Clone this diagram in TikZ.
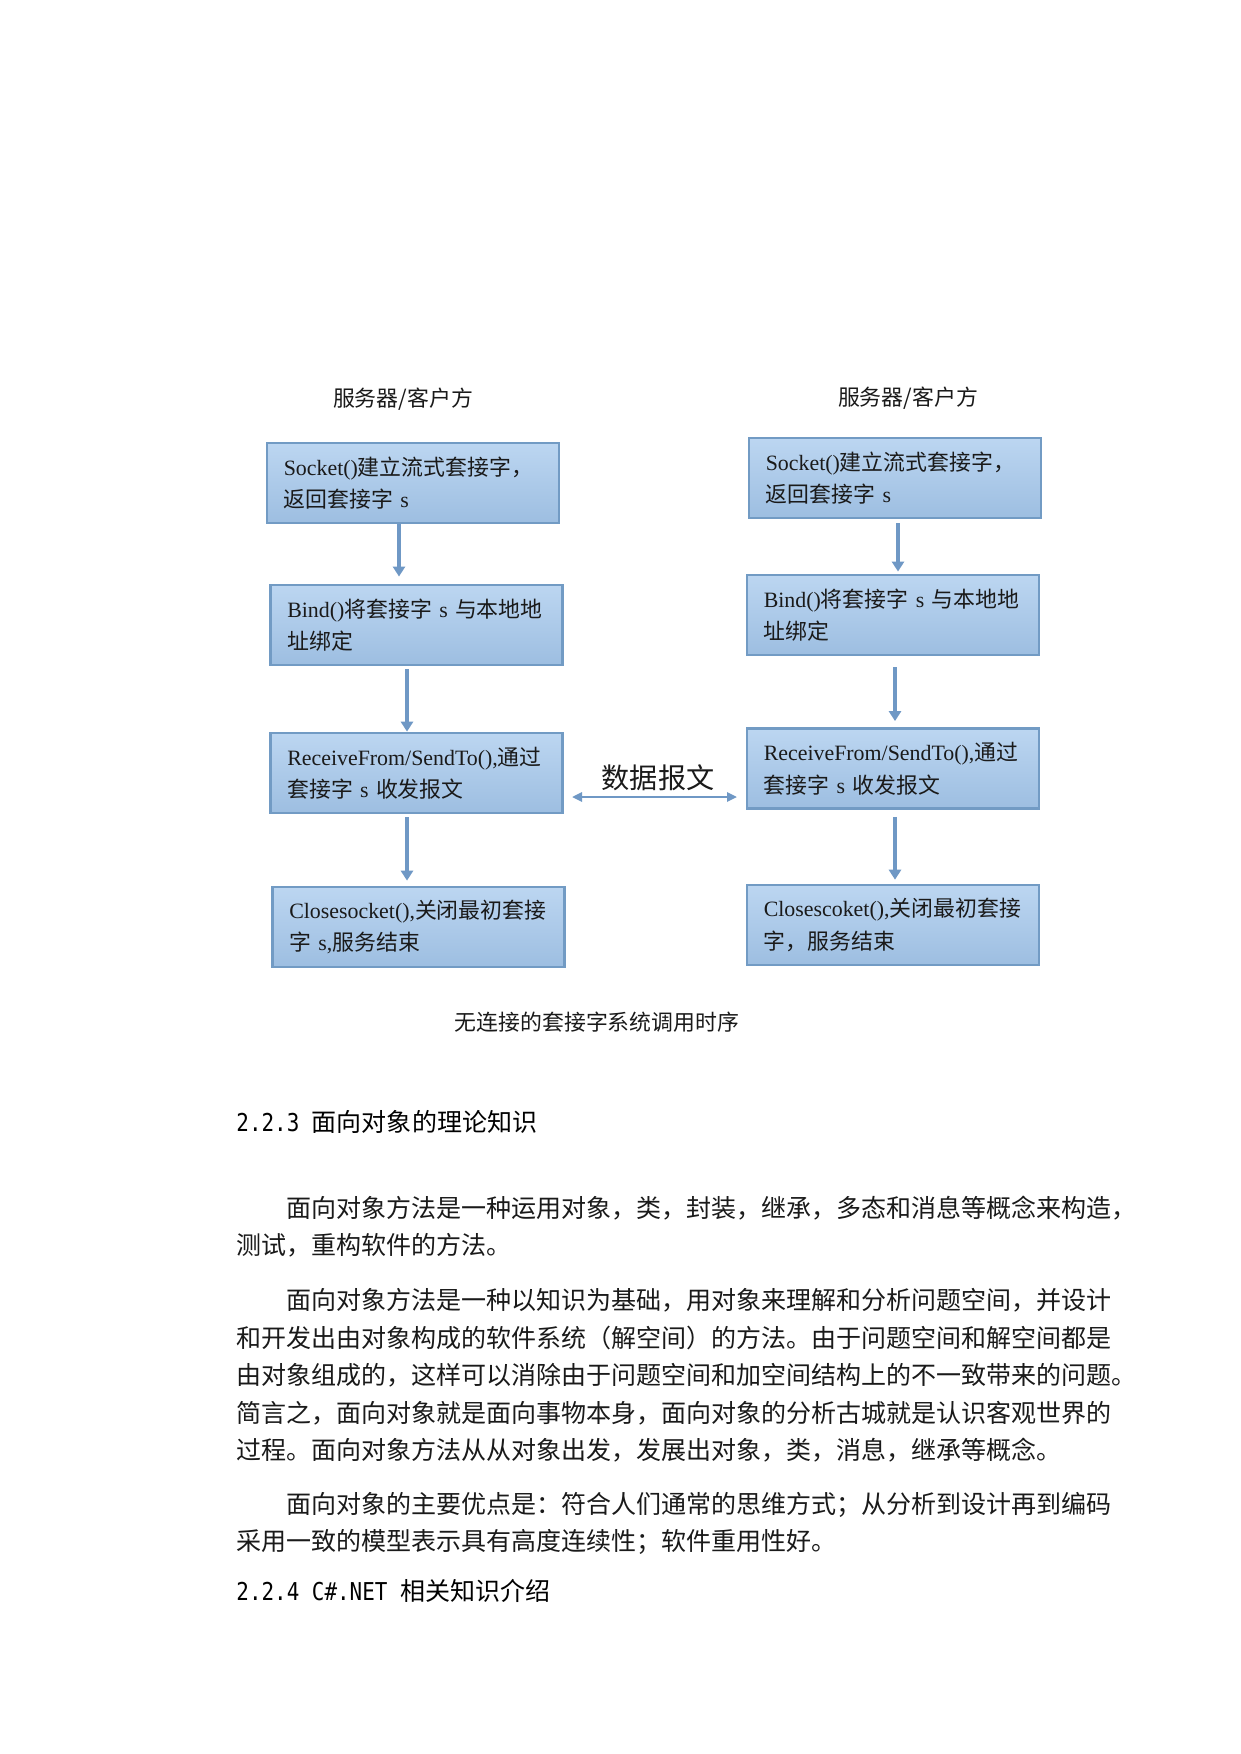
\documentclass[tikz,border=0pt]{standalone}
\usepackage{fontspec}
\setmainfont{Liberation Serif}
\newfontfamily\cjk{Noto Sans CJK SC}
\newfontfamily\monof[FakeStretch=0.85]{DejaVu Sans Mono}
\usetikzlibrary{arrows.meta}
\definecolor{bordc}{HTML}{729BC4}
\definecolor{ftop}{HTML}{BCD6F1}
\definecolor{fbot}{HTML}{9DBEE1}
\definecolor{arrc}{HTML}{6F98C5}
\definecolor{txtc}{HTML}{1A1A1A}
\newcommand\zh[1]{{\cjk #1}}
\begin{document}
\begin{tikzpicture}[x=0.4797pt,y=-0.4797pt,
  fbox/.style={draw=bordc, line width=1.3pt, top color=ftop, bottom color=fbot,
    minimum width=140pt, minimum height=38.4pt, inner xsep=8pt, inner ysep=0pt,
    text width=124pt, align=left, font=\fontsize{10.5}{15.6}\selectfont, text=txtc},
  arr/.style={draw=arrc, line width=1.6pt, -{Triangle[width=5.8pt,length=4.8pt]}},
  darr/.style={draw=arrc, line width=1.2pt, {Triangle[width=4.4pt,length=4.8pt]}-{Triangle[width=4.4pt,length=4.8pt]}},
  hdr/.style={font=\cjk\fontsize{10.5}{12}\selectfont, text=txtc, inner sep=0pt},
  body/.style={font=\cjk\fontsize{12}{12}\selectfont, text=txtc, anchor=west, inner sep=0pt},
  sect/.style={font=\fontsize{12}{12}\selectfont, text=black, anchor=west, inner sep=0pt}]
\useasboundingbox (0,0) rectangle (1241,1754);
\fill[white] (0,0) rectangle (1241,1754);

% headers
\node[hdr] (hL) at (403,399) {服务器/客户方};
\node[hdr] (hR) at (908,398) {服务器/客户方};

% left column
\node[fbox] (b1L) at (413,483) {Socket()\zh{建立流式套接字，}\\\zh{返回套接字} s};
\node[fbox] (b2L) at (416.5,625) {Bind()\zh{将套接字} s \zh{与本地地}\\\zh{址绑定}};
\node[fbox] (b3L) at (416.5,773) {ReceiveFrom/SendTo(),\zh{通过}\\\zh{套接字} s \zh{收发报文}};
\node[fbox] (b4L) at (418.5,927) {Closesocket(),\zh{关闭最初套接}\\\zh{字} s,\zh{服务结束}};

% right column
\node[fbox] (b1R) at (895,478) {Socket()\zh{建立流式套接字，}\\\zh{返回套接字} s};
\node[fbox] (b2R) at (893,615) {Bind()\zh{将套接字} s \zh{与本地地}\\\zh{址绑定}};
\node[fbox] (b3R) at (893,768.5) {ReceiveFrom/SendTo(),\zh{通过}\\\zh{套接字} s \zh{收发报文}};
\node[fbox] (b4R) at (893,925) {Closescoket(),\zh{关闭最初套接}\\\zh{字，服务结束}};

% arrow x positions
\coordinate (xa) at (399,0);
\coordinate (xb) at (407,0);
\coordinate (xc) at (898,0);
\coordinate (xd) at (895,0);

\draw[arr, shorten >=3.4pt] (b1L.south -| xa) -- (b2L.north -| xa);
\draw[arr, shorten <=1.4pt] (b2L.south -| xb) -- (b3L.north -| xb);
\draw[arr, shorten <=1.4pt, shorten >=2.4pt] (b3L.south -| xb) -- (b4L.north -| xb);
\draw[arr, shorten <=1.9pt, shorten >=1pt] (b1R.south -| xc) -- (b2R.north -| xc);
\draw[arr, shorten <=5.3pt, shorten >=2.9pt] (b2R.south -| xd) -- (b3R.north -| xd);
\draw[arr, shorten <=3.4pt, shorten >=1.9pt] (b3R.south -| xd) -- (b4R.north -| xd);

% datagram exchange
\coordinate (dl) at (572,797);
\coordinate (dr) at (737,797);
\draw[darr] (dl) -- (dr);
\node[font=\cjk\fontsize{13.5}{14}\selectfont, text=txtc, inner sep=0pt] (dlab) at (658,778) {数据报文};

% caption
\node[hdr] (cap) at (597,1022) {无连接的套接字系统调用时序};

% text below
\node[sect] (s223) at (236,1122) {{\monof\fontsize{11.8}{12}\selectfont 2.2.3 }{\cjk 面向对象的理论知识}};
\node[body] (l1) at (286,1208.5) {面向对象方法是一种运用对象，类，封装，继承，多态和消息等概念来构造，};
\node[body] (l2) at (236,1245.5) {测试，重构软件的方法。};
\node[body] (l3) at (286,1300) {面向对象方法是一种以知识为基础，用对象来理解和分析问题空间，并设计};
\node[body] (l4) at (236,1338) {和开发出由对象构成的软件系统（解空间）的方法。由于问题空间和解空间都是};
\node[body] (l5) at (236,1375) {由对象组成的，这样可以消除由于问题空间和加空间结构上的不一致带来的问题。};
\node[body] (l6) at (236,1413) {简言之，面向对象就是面向事物本身，面向对象的分析古城就是认识客观世界的};
\node[body] (l7) at (236,1450) {过程。面向对象方法从从对象出发，发展出对象，类，消息，继承等概念。};
\node[body] (l8) at (286,1505) {面向对象的主要优点是：符合人们通常的思维方式；从分析到设计再到编码};
\node[body] (l9) at (236,1542) {采用一致的模型表示具有高度连续性；软件重用性好。};
\node[sect] (s224) at (236,1591) {{\monof\fontsize{11.8}{12}\selectfont 2.2.4 C\#.NET }{\cjk 相关知识介绍}};
\end{tikzpicture}
\end{document}
